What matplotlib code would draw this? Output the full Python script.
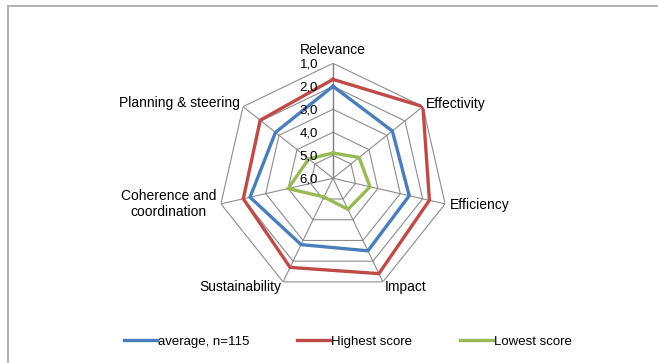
import numpy as np
import matplotlib
matplotlib.use("Agg")
import matplotlib.pyplot as plt
from matplotlib.lines import Line2D

plt.rcParams['font.family'] = ['Liberation Sans', 'DejaVu Sans']

# Evaluation criteria and scores (1 = best, 6 = worst)
criteria = ["Relevance", "Effectivity", "Efficiency", "Impact",
            "Sustainability", "Coherence and\ncoordination", "Planning & steering"]
average = [2.0, 2.7, 2.6, 2.5, 2.8, 2.3, 2.8]
highest = [1.7, 1.0, 1.7, 1.4, 1.7, 2.0, 1.95]
lowest = [4.9, 4.55, 4.35, 4.5, 5.1, 4.0, 4.65]
series_names = ["average, n=115", "Highest score", "Lowest score"]
series_colors = ["#4A7EBB", "#BE4B48", "#98B954"]
ring_values = [1.0, 2.0, 3.0, 4.0, 5.0, 6.0]
ring_labels = ["1,0", "2,0", "3,0", "4,0", "5,0", "6,0"]

W, H = 658, 363
fig = plt.figure(figsize=(W / 100, H / 100), dpi=100)

# chart area frame (left and top edges)
fig.add_artist(Line2D([8 / W, 8 / W], [0, 1 - 6 / H], color="#a6a6a6", lw=1.2))
fig.add_artist(Line2D([8 / W, 1], [1 - 6 / H, 1 - 6 / H], color="#a6a6a6", lw=1.2))

cx, cy, R = 333, 178.3, 115
ax = fig.add_axes([(cx - R) / W, (H - cy - R) / H, 2 * R / W, 2 * R / H],
                  projection="polar")
ax.set_theta_zero_location("N")
ax.set_theta_direction(-1)
ax.set_ylim(6, 1)
ax.grid(False)
ax.spines["polar"].set_visible(False)
ax.set_xticks([])
ax.set_yticks([])
ax.patch.set_visible(False)

n = len(criteria)
theta = np.arange(n) * 2 * np.pi / n
theta_closed = np.append(theta, theta[0])

# heptagonal grid rings and spokes
for rv in ring_values[:-1]:
    ax.plot(theta_closed, [rv] * (n + 1), color="#8c8c8c", lw=0.8, zorder=1)
for i, t in enumerate(theta):
    ax.plot([t, t], [6, 1], color="#7f7f7f" if i == 0 else "#8c8c8c",
            lw=1.0 if i == 0 else 0.8, zorder=1)

# data series
handles = []
for vals, name, col in zip([average, highest, lowest], series_names, series_colors):
    v = np.append(vals, vals[0])
    h, = ax.plot(theta_closed, v, color=col, lw=2.4, label=name, zorder=3,
                 solid_joinstyle="miter")
    handles.append(h)

# radial value labels along the top spoke
for rv, lab in zip(ring_values, ring_labels):
    ax.annotate(lab, xy=(0, rv), xytext=(-15, -1), textcoords="offset pixels",
                ha="right", va="center", fontsize=9.5, color="#000000", zorder=4)

# category labels
offsets = [((0, 6), "center", "bottom"),
           ((3, 3), "left", "center"),
           ((5, -1), "left", "center"),
           ((2, -5), "left", "center"),
           ((-2, -5), "right", "center"),
           ((-5, 0), "right", "center"),
           ((-3, 4), "right", "center")]
for t, lab, (off, ha, va) in zip(theta, criteria, offsets):
    ax.annotate(lab, xy=(t, 1), xytext=off, textcoords="offset pixels",
                ha=ha, va=va, fontsize=10, multialignment="center",
                annotation_clip=False)

fig.legend(handles=handles, loc="center", bbox_to_anchor=(348 / W, 1 - 341.5 / H),
           ncol=3, frameon=False, fontsize=9.5, handlelength=2.5,
           handletextpad=0.1, columnspacing=3.6)

fig.savefig("out.png", dpi=100)
